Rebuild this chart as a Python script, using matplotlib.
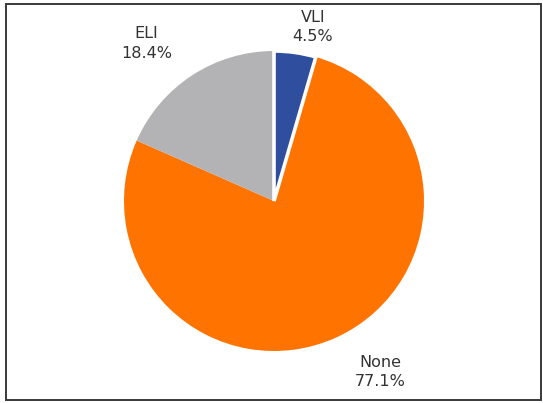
import matplotlib.pyplot as plt
from matplotlib.patches import Rectangle

categories = ["VLI", "None", "ELI"]
shares = [4.5, 77.1, 18.4]
colors = ["#2f4f9e", "#ff7300", "#b3b3b5"]

# label anchors, in units of pie radius
label_pos = [(0.26, 1.16), (0.71, -1.14), (-0.85, 1.05)]

fig = plt.figure(figsize=(5.43, 4.03), dpi=100)
ax = fig.add_axes([0, 0, 1, 1])

wedges, _ = ax.pie(shares, colors=colors, startangle=90, counterclock=False,
                   radius=1.0, wedgeprops=dict(linewidth=0))

# only the small VLI slice is outlined in white
wedges[0].set_edgecolor("white")
wedges[0].set_linewidth(2.6)
wedges[0].set_zorder(3)

for name, val, (x, y) in zip(categories, shares, label_pos):
    ax.text(x, y, f"{name}\n{val:.1f}%", ha="center", va="center",
            fontsize=11.5, color="#333333", linespacing=1.4)

# keep 1 unit = 150 px, pie centred at (274, 201)
ax.set_xlim(-274 / 150, (543 - 274) / 150)
ax.set_ylim(-(403 - 201) / 150, 201 / 150)
ax.set_aspect("auto")
ax.axis("off")

fig.patches.append(Rectangle((6 / 543, 3 / 403), 535 / 543, 396 / 403,
                             transform=fig.transFigure, fill=False,
                             edgecolor="#3a3a3a", linewidth=1.4))

fig.savefig("out.png", dpi=100)
